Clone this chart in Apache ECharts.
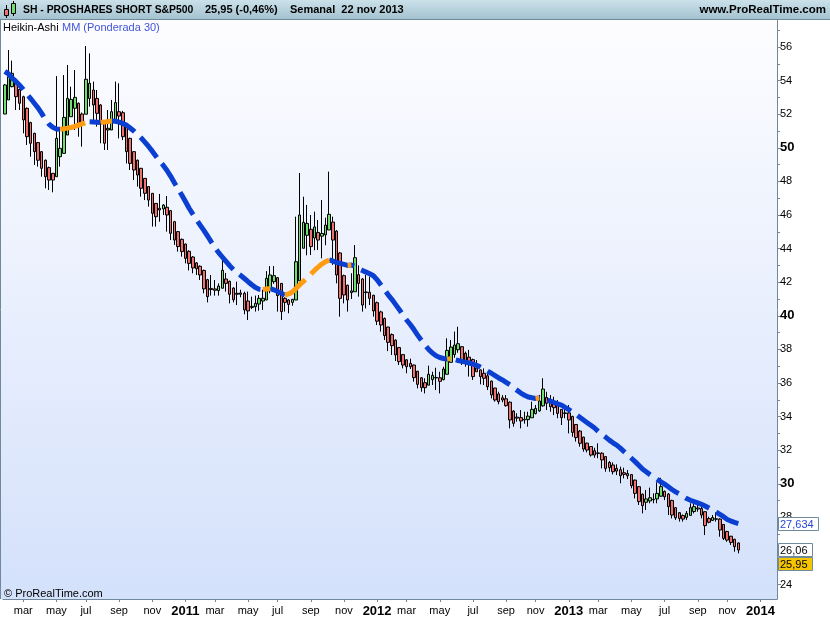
<!DOCTYPE html>
<html><head><meta charset="utf-8">
<script src="https://cdn.jsdelivr.net/npm/echarts@6/dist/echarts.min.js"></script>
<style>html,body{margin:0;padding:0;background:#fff}#c{width:830px;height:620px}</style>
</head><body><div id="c"></div>
<script>
// ---------- DATA ----------
const startDate = '2010-01-29';   // first weekly bar (Friday)
const futureWeeks = 10;           // empty weeks to the right of the last bar

const haOpen = [52.01,52.85,53.64,53.94,53.48,53.04,52.35,51.50,50.86,50.31,49.77,49.26,48.82,48.48,48.28,49.47,49.67,50.76,51.85,52.35,
52.65,52.01,52.00,52.94,53.44,52.94,52.55,51.56,51.16,51.06,51.56,52.15,52.09,51.36,50.56,49.77,49.26,48.78,48.18,47.69,
47.29,46.69,46.40,46.36,46.46,46.26,45.60,45.01,44.55,44.27,43.84,43.50,43.15,42.95,42.70,42.15,41.63,41.60,41.50,41.64,
42.19,42.05,41.65,41.34,41.36,41.34,40.88,40.56,40.54,40.70,40.88,40.94,41.60,42.03,42.27,41.93,41.04,40.94,40.80,40.94,
42.08,44.02,44.79,45.15,44.63,44.96,44.74,44.82,45.11,45.58,45.04,43.74,42.39,41.82,41.38,41.43,42.45,42.19,41.42,41.40,
41.22,40.78,40.23,39.84,39.33,38.88,38.55,38.11,37.69,37.38,37.17,37.07,36.70,36.31,36.02,35.87,36.20,36.33,36.31,36.20,
36.52,37.23,37.69,37.98,38.16,37.77,37.54,37.39,36.89,36.78,36.58,36.43,36.11,35.70,35.35,35.12,35.06,34.86,34.33,33.97,
33.94,33.84,33.82,33.93,34.18,34.34,34.64,35.14,34.97,34.78,34.66,34.43,34.19,34.22,34.01,33.53,33.14,32.78,32.42,32.22,
31.97,31.84,31.82,31.62,31.27,31.12,30.92,30.84,30.66,30.61,30.55,30.22,29.83,29.38,28.90,28.98,29.08,29.10,29.26,29.55,
29.39,29.01,28.58,28.28,28.11,28.00,28.12,28.35,28.50,28.53,28.34,27.93,27.82,27.92,27.90,27.58,27.16,26.88,26.70,26.48];

const haClose = [53.74,54.23,54.43,53.04,52.65,51.66,50.66,50.27,49.77,49.26,48.78,48.28,48.08,48.08,50.56,49.97,51.81,52.94,52.88,53.00,
51.26,51.46,54.08,53.84,52.55,52.05,51.46,50.27,51.06,52.15,52.69,51.89,50.66,49.77,49.07,48.68,48.38,47.59,47.29,46.89,
46.10,45.90,46.30,46.59,46.00,44.91,44.51,44.12,43.82,43.42,43.12,42.85,42.80,42.43,41.60,41.14,41.56,41.52,41.77,42.71,
41.93,41.28,40.96,41.28,41.28,40.35,40.29,40.50,40.74,41.04,41.04,42.23,42.43,42.39,41.20,40.25,40.80,40.68,40.98,43.22,
46.00,45.56,45.50,44.12,45.29,44.51,44.90,45.40,46.04,44.51,42.43,41.04,41.24,40.94,41.48,43.46,41.93,40.64,41.38,41.04,
40.29,39.68,39.45,38.82,38.42,38.22,37.67,37.27,37.07,36.97,36.97,36.32,35.92,35.72,35.72,36.52,36.45,36.30,36.10,36.83,
37.94,38.14,38.26,38.34,37.37,37.31,37.23,36.38,36.67,36.38,36.28,35.78,35.29,34.99,34.89,34.99,34.65,33.80,33.60,33.91,
33.74,33.80,34.03,34.43,34.49,34.93,35.64,34.79,34.59,34.53,34.19,33.94,34.22,33.80,33.06,32.75,32.41,32.07,32.01,31.71,
31.71,31.80,31.42,30.92,30.96,30.72,30.76,30.48,30.56,30.48,29.89,29.43,28.94,28.70,29.10,29.17,29.05,29.43,29.83,29.23,
28.64,28.14,27.98,27.94,27.90,28.24,28.58,28.64,28.56,28.14,27.51,27.71,27.99,27.89,27.25,26.75,26.65,26.51,26.26,26.06];

const haLow = [52.01,52.85,53.60,52.25,52.25,50.86,50.17,49.47,48.98,48.88,48.28,47.59,47.49,47.35,48.28,48.88,49.67,50.76,51.85,51.06,
50.66,50.07,52.00,52.45,51.66,51.26,50.27,49.87,49.87,51.06,51.56,50.56,50.46,49.07,48.68,48.08,47.69,47.09,46.89,46.50,
45.31,45.31,45.60,46.00,45.01,44.51,44.22,43.82,43.52,43.12,42.70,42.53,42.43,42.13,41.34,40.80,41.20,41.20,41.20,41.64,
41.44,40.74,40.80,40.64,41.10,40.09,39.75,40.40,40.25,40.30,40.35,40.94,41.34,41.90,40.25,39.75,40.25,40.15,40.60,40.94,
42.08,44.02,43.60,43.62,43.90,43.92,43.42,44.20,45.11,43.03,41.93,39.95,40.74,40.25,41.00,41.43,41.14,40.25,40.44,40.64,
39.95,39.45,39.06,38.56,37.90,37.67,37.31,37.07,36.87,36.58,36.83,36.08,35.68,35.48,35.38,35.87,35.88,35.58,35.38,36.16,
36.52,37.23,37.50,37.80,37.07,36.97,36.38,36.18,36.67,35.92,35.88,35.58,35.08,34.89,34.73,34.85,34.59,33.30,33.40,33.70,
33.30,33.58,33.40,33.93,34.13,34.29,34.59,34.39,34.29,34.09,33.90,33.50,33.90,33.00,32.80,32.51,32.21,31.91,31.87,31.62,
31.55,31.52,30.92,30.72,30.72,30.56,30.52,30.03,30.32,30.28,29.73,29.13,28.74,28.24,28.44,28.84,28.84,28.84,29.23,29.03,
28.14,27.94,27.85,27.75,27.75,27.85,28.12,28.24,28.34,27.94,26.95,27.65,27.79,27.75,26.85,26.65,26.55,26.36,25.96,25.86];

const haHigh = [53.80,55.82,55.19,54.00,53.50,53.10,52.40,51.55,50.90,50.35,49.80,49.30,48.88,48.50,54.27,51.16,54.33,54.93,53.64,54.63,
52.70,52.10,56.06,55.62,53.94,53.44,52.60,51.60,52.25,52.85,53.94,53.84,52.20,51.40,50.60,49.80,49.30,48.80,48.20,47.70,
47.30,46.70,47.25,46.65,47.13,46.30,45.65,45.05,44.60,44.30,43.90,43.55,43.20,43.00,42.75,42.20,42.43,42.13,41.93,43.52,
42.55,42.10,41.70,42.03,41.55,41.44,41.44,41.14,41.20,41.24,41.55,42.66,42.96,42.96,42.30,41.95,41.10,41.00,41.00,45.90,
48.50,47.09,46.60,46.00,46.20,45.70,46.89,45.84,48.58,45.90,45.10,43.80,42.45,41.85,42.53,44.21,43.00,42.25,42.43,42.33,
41.25,40.85,40.30,39.90,39.35,38.95,38.60,38.15,37.72,37.42,37.45,37.10,36.72,36.35,36.28,37.03,36.67,36.91,36.67,36.97,
38.66,38.56,39.06,39.35,38.20,37.87,37.97,37.45,37.37,36.80,36.87,36.67,36.15,35.72,35.48,35.28,35.28,34.90,34.38,34.20,
34.39,34.29,34.29,34.89,34.69,35.29,36.28,35.48,35.28,35.18,34.98,34.45,34.69,34.69,34.05,33.56,33.20,32.80,32.45,32.25,
32.15,32.41,31.88,31.65,31.36,31.28,31.16,31.02,30.96,30.82,30.58,30.25,29.85,29.42,29.63,29.77,29.43,30.09,30.36,29.60,
29.45,29.05,28.60,28.32,28.18,28.38,28.84,28.94,28.84,28.64,28.36,28.04,28.14,28.30,27.95,27.60,27.20,26.90,26.72,26.50];

// MM ponderada 30 (weighted moving average)
const maValues = [54.55,54.40,54.15,53.95,53.72,53.48,53.20,52.93,52.65,52.38,52.05,51.68,51.40,51.22,51.12,51.10,51.13,51.17,51.21,51.27,
51.35,51.43,51.50,51.55,51.54,51.52,51.50,51.53,51.57,51.60,51.58,51.53,51.45,51.35,51.18,51.00,50.80,50.58,50.34,50.08,
49.80,49.50,49.20,48.95,48.65,48.30,47.92,47.55,47.19,46.80,46.40,46.05,45.72,45.40,45.08,44.75,44.40,44.06,43.76,43.50,
43.24,42.98,42.76,42.56,42.40,42.22,42.03,41.85,41.68,41.58,41.56,41.59,41.62,41.55,41.45,41.35,41.24,41.30,41.42,41.62,
41.85,42.05,42.25,42.48,42.70,42.90,43.08,43.22,43.32,43.26,43.18,43.12,43.06,43.00,43.02,42.96,42.80,42.70,42.60,42.50,
42.38,42.15,41.85,41.55,41.25,40.98,40.68,40.38,40.05,39.75,39.48,39.18,38.85,38.55,38.25,38.00,37.78,37.62,37.52,37.46,
37.42,37.45,37.40,37.34,37.29,37.24,37.19,37.13,37.05,36.95,36.83,36.70,36.58,36.44,36.30,36.18,36.04,35.90,35.72,35.56,
35.40,35.27,35.17,35.12,35.08,35.11,35.06,34.99,34.92,34.84,34.76,34.69,34.55,34.42,34.27,34.12,33.96,33.80,33.64,33.48,
33.32,33.12,32.95,32.78,32.60,32.44,32.30,32.12,31.92,31.72,31.52,31.32,31.10,30.88,30.72,30.55,30.40,30.26,30.12,29.98,
29.82,29.66,29.52,29.40,29.25,29.12,29.02,28.94,28.86,28.78,28.68,28.56,28.44,28.32,28.18,28.04,27.88,27.78,27.70,27.634];

const yLabelTicks = [24,26,28,30,32,34,36,38,40,42,44,46,48,50,52,54,56];
const yMinorTicks = [25,27,29,31,33,35,37,39,41,43,45,47,49,51,53,55,57];
const boldTicks = [30,40,50];
const monthNames = ['ene','feb','mar','abr','may','jun','jul','ago','sep','oct','nov','dic'];
const lastHAClose = 26.06;
const lastClose = 25.95;
const lastMA = 27.634;

// ---------- BUILD ----------
const FONT = '"Liberation Sans", Arial, sans-serif';
const nBars = haOpen.length;
const catDates = [];
const categories = [];
{
  const t0 = Date.parse(startDate + 'T00:00:00Z');
  for (let i = 0; i < nBars + futureWeeks; i++) {
    const d = new Date(t0 + i * 7 * 86400000);
    catDates.push(d);
    categories.push(d.toISOString().slice(0, 10));
  }
}
function isLabelCat(idx) {
  if (idx <= 0) return false;
  const m = catDates[idx].getUTCMonth();
  return m !== catDates[idx - 1].getUTCMonth() && m % 2 === 0;
}
const candles = haOpen.map((o, i) => [o, haClose[i], haLow[i], haHigh[i]]);

// split the MA into falling (blue) and rising (orange) runs
const rising = (i) => i > 0 && i < maValues.length && maValues[i] > maValues[i - 1];
const falling = (i) => i > 0 && i < maValues.length && !(maValues[i] > maValues[i - 1]);
const maBlue = maValues.map((v, i) => (falling(i) || falling(i + 1)) ? v : null);
const maOrange = maValues.map((v, i) => (rising(i) || rising(i + 1)) ? v : null);

const BLUE = '#0a3fd2', ORANGE = '#ff9c12';
const Y_MIN = 23.143, Y_MAX = 57.607;
const axisColor = '#71889a';
const dash = [26, 8];

const chart = echarts.init(document.getElementById('c'), null, { renderer: 'canvas' });
chart.setOption({
  animation: false,
  backgroundColor: '#ffffff',
  grid: { left: 3, right: 53, top: 20, bottom: 21 },
  xAxis: {
    type: 'category', data: categories, boundaryGap: true,
    axisLine: { show: true, lineStyle: { color: axisColor, width: 1 } },
    axisTick: { show: true, alignWithLabel: true, length: 3, interval: (i) => isLabelCat(i), lineStyle: { color: axisColor } },
    axisLabel: {
      interval: (i) => isLabelCat(i), margin: 6, color: '#000', fontSize: 11, fontFamily: FONT,
      formatter: (v) => {
        const m = parseInt(v.slice(5, 7), 10) - 1;
        return m === 0 ? '{y|' + v.slice(0, 4) + '}' : monthNames[m];
      },
      rich: { y: { fontWeight: 'bold', fontSize: 13, fontFamily: FONT, color: '#000' } }
    },
    splitLine: { show: false }
  },
  yAxis: [{
    type: 'value', position: 'right', min: Y_MIN, max: Y_MAX,
    axisLine: { show: true, lineStyle: { color: axisColor } },
    axisTick: { show: true, length: 4, customValues: yLabelTicks, lineStyle: { color: axisColor } },
    axisLabel: {
      customValues: yLabelTicks, margin: 3, color: '#000', fontSize: 11, fontFamily: FONT,
      formatter: (v) => boldTicks.indexOf(v) >= 0 ? '{b|' + v + '}' : String(v),
      rich: { b: { fontWeight: 'bold', fontSize: 13, fontFamily: FONT, color: '#000' } }
    },
    splitLine: { show: false }
  }, {
    type: 'value', position: 'right', min: Y_MIN, max: Y_MAX,
    axisLine: { show: false },
    axisTick: { show: true, length: 3, customValues: yMinorTicks, lineStyle: { color: axisColor } },
    axisLabel: { show: false },
    splitLine: { show: false }
  }],
  series: [{
    type: 'candlestick', data: candles, barWidth: 3, z: 3,
    itemStyle: { color: '#6ee06e', color0: '#f07070', borderColor: '#000', borderColor0: '#000', borderWidth: 1 }
  }, {
    type: 'line', data: maBlue, showSymbol: false, symbol: 'none', z: 4, connectNulls: false,
    lineStyle: { width: 5, color: BLUE, type: dash, cap: 'butt' }
  }, {
    type: 'line', data: maOrange, showSymbol: false, symbol: 'none', z: 5, connectNulls: false,
    lineStyle: { width: 5, color: ORANGE, type: dash, cap: 'butt' }
  }]
});

function boxLabel(y, text, fill, color, w) {
  return [
    { type: 'rect', z: 200, shape: { x: 778.5, y: Math.round(y) - 6.5, width: w, height: 13 }, style: { fill: fill, stroke: '#6f8a98', lineWidth: 1 } },
    { type: 'text', z: 201, x: 780, y: Math.round(y) + 0.5, style: { text: text, fill: color, font: '11px ' + FONT, verticalAlign: 'middle', align: 'left' } }
  ];
}

const yMA = chart.convertToPixel({ yAxisIndex: 0 }, lastMA);
const yHA = chart.convertToPixel({ yAxisIndex: 0 }, lastHAClose);
const yCl = yHA + 14;
const fmt = (v) => String(v).replace('.', ',');

chart.setOption({
  graphic: [
    // plot background
    { type: 'rect', z: -10, silent: true, shape: { x: 0, y: 20, width: 777, height: 579 },
      style: { fill: new echarts.graphic.LinearGradient(0, 0, 0, 1, [{ offset: 0, color: '#fdfdff' }, { offset: 1, color: '#d4e1fb' }]) } },
    { type: 'line', z: 50, shape: { x1: 0.5, y1: 20, x2: 0.5, y2: 599 }, style: { stroke: axisColor, lineWidth: 1 } },
    // header
    { type: 'rect', z: 50, shape: { x: 0, y: 0, width: 830, height: 20 },
      style: { fill: new echarts.graphic.LinearGradient(0, 0, 0, 1, [{ offset: 0, color: '#cbe1ea' }, { offset: 1, color: '#a2c1ce' }]) } },
    { type: 'line', z: 51, shape: { x1: 0, y1: 19.5, x2: 830, y2: 19.5 }, style: { stroke: '#6f8a98', lineWidth: 1 } },
    { type: 'line', z: 51, shape: { x1: 6.5, y1: 5, x2: 6.5, y2: 18 }, style: { stroke: '#000', lineWidth: 1 } },
    { type: 'rect', z: 52, shape: { x: 4.5, y: 9.5, width: 4, height: 6 }, style: { fill: '#f07070', stroke: '#000', lineWidth: 1 } },
    { type: 'line', z: 51, shape: { x1: 13.5, y1: 1, x2: 13.5, y2: 16 }, style: { stroke: '#000', lineWidth: 1 } },
    { type: 'rect', z: 52, shape: { x: 11.5, y: 3.5, width: 4, height: 10 }, style: { fill: '#6ee06e', stroke: '#000', lineWidth: 1 } },
    { type: 'text', z: 52, x: 23, y: 10, scaleX: 0.945, style: { text: 'SH - PROSHARES SHORT S&P500', font: 'bold 11px ' + FONT, fill: '#000', verticalAlign: 'middle' } },
    { type: 'text', z: 52, x: 205, y: 10, style: { text: '25,95 (-0,46%)', font: 'bold 11px ' + FONT, fill: '#000', verticalAlign: 'middle' } },
    { type: 'text', z: 52, x: 290, y: 10, style: { text: 'Semanal  22 nov 2013', font: 'bold 11px ' + FONT, fill: '#000', verticalAlign: 'middle' } },
    { type: 'text', z: 52, x: 826, y: 10, style: { text: 'www.ProRealTime.com', font: 'bold 11.5px ' + FONT, fill: '#000', align: 'right', verticalAlign: 'middle' } },
    // indicator legend
    { type: 'text', z: 52, x: 3, y: 28, style: {
        text: '{a|Heikin-Ashi} {b|MM (Ponderada 30)}', verticalAlign: 'middle',
        rich: { a: { font: '11px ' + FONT, fill: '#000' }, b: { font: '11px ' + FONT, fill: '#3f55d6' } } } },
    // copyright
    { type: 'text', z: 52, x: 4, y: 594, style: { text: '\u00a9 ProRealTime.com', font: '11px ' + FONT, fill: '#000', verticalAlign: 'middle' } }
  ].concat(
    boxLabel(yMA, fmt(lastMA), '#ffffff', '#2846d8', 40),
    boxLabel(yHA, fmt(lastHAClose), '#ffffff', '#000', 34),
    boxLabel(yCl, fmt(lastClose), '#f6c500', '#000', 34)
  )
});
</script>
</body></html>
